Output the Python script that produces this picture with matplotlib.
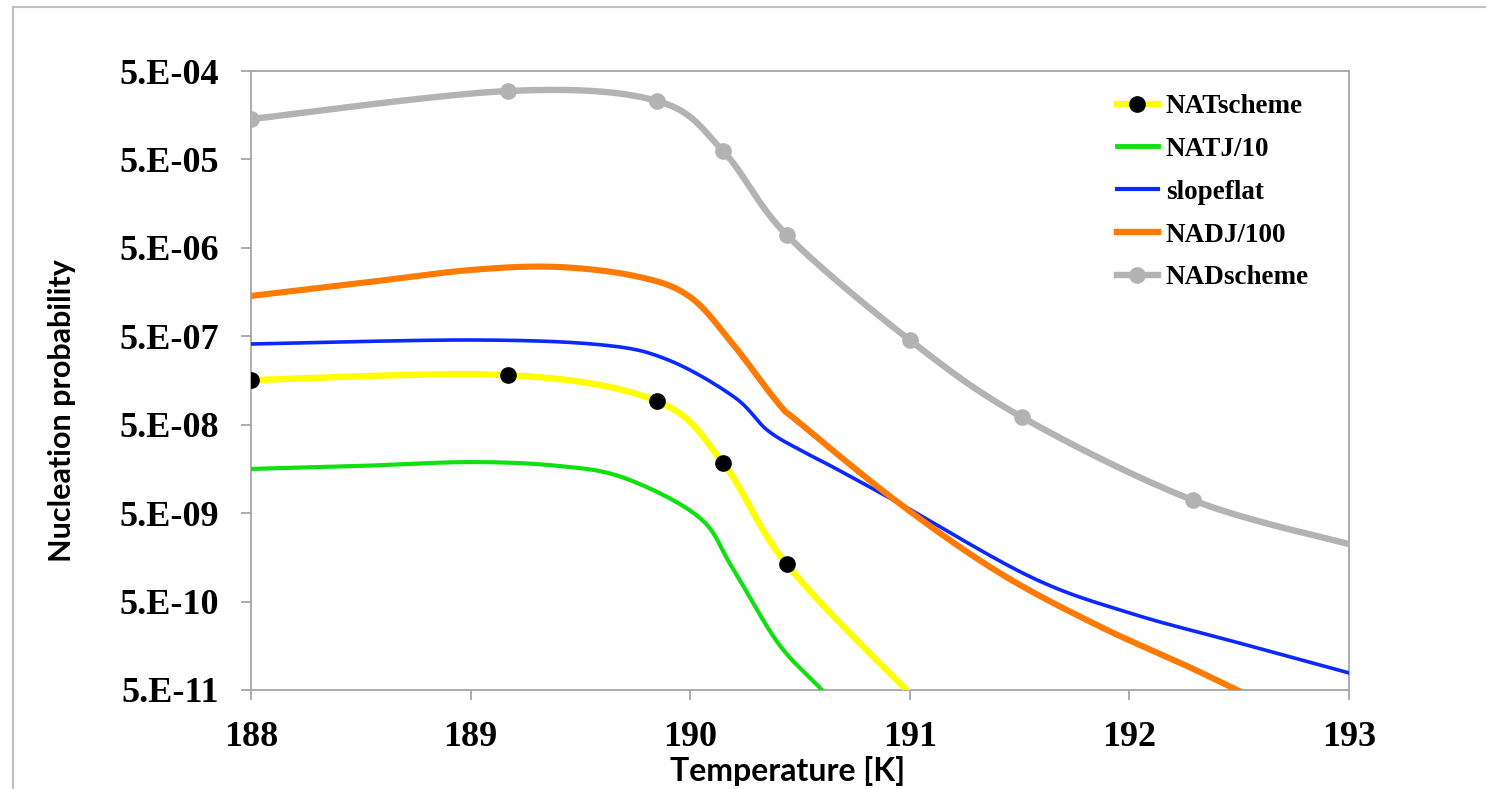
import numpy as np
import matplotlib
matplotlib.use("Agg")
import matplotlib.pyplot as plt
from matplotlib.lines import Line2D
from matplotlib.ticker import FixedLocator, NullLocator

# ---- data -------------------------------------------------------------
# NADscheme (markers at every point except the last)
nad_T = [188.0, 189.17, 189.85, 190.15, 190.44, 191.0, 191.51, 192.29, 193.0]
nad_P = [1.43e-4, 2.97e-4, 2.29e-4, 6.2e-5, 6.98e-6, 4.53e-7, 6.1e-8, 7.0e-9, 2.23e-9]

# NATscheme (last two points fall below the axis floor)
nat_T = [188.0, 189.17, 189.85, 190.15, 190.44, 191.0, 191.51]
nat_P = [1.6e-7, 1.82e-7, 9.2e-8, 1.84e-8, 1.32e-9, 4.6e-11, 3.0e-12]
nat_marked = 5

# NATJ/10
natj_T = [188.0, 188.5, 189.0, 189.4, 189.7, 190.04, 190.19, 190.4, 190.6, 190.9]
natj_P = [1.58e-8, 1.71e-8, 1.89e-8, 1.71e-8, 1.25e-8, 4.5e-9, 1.23e-9, 1.7e-10, 5.0e-11, 8.0e-12]

# slopeflat
slope_T = [188.0, 189.0, 189.6, 189.9, 190.2, 190.35, 190.5, 190.65, 190.95, 191.55, 192.0, 192.5, 193.0]
slope_P = [4.09e-7, 4.54e-7, 3.99e-7, 2.70e-7, 1.03e-7, 4.36e-8, 2.59e-8, 1.66e-8, 6.5e-9, 9.5e-10, 3.72e-10, 1.70e-10, 7.8e-11]

# NADJ/100
nadj_T = [188.0, 188.5, 189.0, 189.4, 189.77, 190.0, 190.19, 190.4, 190.5, 190.95, 191.41, 191.87, 192.32, 193.0]
nadj_P = [1.43e-6, 2.0e-6, 2.81e-6, 3.04e-6, 2.34e-6, 1.39e-6, 4.2e-7, 8.8e-8, 5.2e-8, 6.5e-9, 1.05e-9, 2.58e-10, 8.0e-11, 1.2e-11]

x_ticks = [188, 189, 190, 191, 192, 193]
y_ticks = [5e-4, 5e-5, 5e-6, 5e-7, 5e-8, 5e-9, 5e-10, 5e-11]
y_tick_labels = ["5.E-04", "5.E-05", "5.E-06", "5.E-07", "5.E-08", "5.E-09", "5.E-10", "5.E-11"]

labels = ["NATscheme", "NATJ/10", "slopeflat", "NADJ/100", "NADscheme"]
colors = {"yellow": "#FFFF00", "green": "#10E010", "blue": "#0A28FF",
          "orange": "#FF7A00", "gray": "#B3B3B3"}


def smoothed(xs, ys, n=40):
    """Spreadsheet-style smoothed line: cubic Bezier segments with
    Catmull-Rom control points, built in (x, log10 y) space."""
    p = np.column_stack([np.asarray(xs, float), np.log10(ys)])
    out = []
    m = len(p)
    t = np.linspace(0, 1, n)[:, None]
    for i in range(m - 1):
        p0 = p[i - 1] if i > 0 else p[i]
        p1, p2 = p[i], p[i + 1]
        p3 = p[i + 2] if i + 2 < m else p[i + 1]
        c1 = p1 + (p2 - p0) / 6.0
        c2 = p2 - (p3 - p1) / 6.0
        seg = ((1 - t) ** 3) * p1 + 3 * ((1 - t) ** 2) * t * c1 \
            + 3 * (1 - t) * t ** 2 * c2 + t ** 3 * p2
        out.append(seg if i == 0 else seg[1:])
    s = np.vstack(out)
    return s[:, 0], 10 ** s[:, 1]


W, H, DPI = 1486, 789, 100
fig = plt.figure(figsize=(W / DPI, H / DPI), dpi=DPI)
fig.patch.set_facecolor("white")

# outer frame (left and top edges visible)
frame_col = "#C0C0C0"
fig.add_artist(Line2D([13 / W, 13 / W], [0, 1 - 7 / H], transform=fig.transFigure,
                      color=frame_col, lw=1.5))
fig.add_artist(Line2D([13 / W, 1], [1 - 7 / H, 1 - 7 / H], transform=fig.transFigure,
                      color=frame_col, lw=1.5))

ax = fig.add_axes([251 / W, 1 - 690 / H, (1349 - 251) / W, (690 - 71) / H])
ax.set_yscale("log")
ax.set_xlim(188, 193)
ax.set_ylim(5e-11, 5e-4)

# series, in drawing order
x, y = smoothed(nat_T, nat_P)
ax.plot(x, y, color=colors["yellow"], lw=4.6, solid_capstyle="round", zorder=3)
ax.plot(nat_T[:nat_marked], nat_P[:nat_marked], ls="none", marker="o", ms=11,
        mfc="black", mec="black", zorder=4)

x, y = smoothed(natj_T, natj_P)
ax.plot(x, y, color=colors["green"], lw=3.0, zorder=3)

x, y = smoothed(slope_T, slope_P)
ax.plot(x, y, color=colors["blue"], lw=2.6, zorder=3)

x, y = smoothed(nadj_T, nadj_P)
ax.plot(x, y, color=colors["orange"], lw=4.4, zorder=3)

x, y = smoothed(nad_T, nad_P)
ax.plot(x, y, color=colors["gray"], lw=4.6, zorder=5)
ax.plot(nad_T[:-1], nad_P[:-1], ls="none", marker="o", ms=11,
        mfc=colors["gray"], mec=colors["gray"], zorder=6)

# axes styling
spine_col = "#A6A6A6"
for s in ax.spines.values():
    s.set_color(spine_col)
    s.set_linewidth(1.3)
ax.xaxis.set_major_locator(FixedLocator(x_ticks))
ax.yaxis.set_major_locator(FixedLocator(y_ticks))
ax.yaxis.set_minor_locator(NullLocator())
ax.set_yticklabels(y_tick_labels)
ax.set_xticklabels([str(v) for v in x_ticks])
ax.tick_params(axis="both", which="major", direction="out", length=7, width=1.3,
               color=spine_col, labelsize=26)
ax.tick_params(axis="y", pad=16)
ax.tick_params(axis="x", pad=15)
for lab in ax.get_xticklabels() + ax.get_yticklabels():
    lab.set_fontfamily("Liberation Serif")
    lab.set_fontweight("bold")

# axis titles
fig.text(62 / W, 1 - 411 / H, "Nucleation probability", rotation=90,
         ha="center", va="center", fontsize=22, fontweight="bold", family="Lato")
fig.text(788 / W, 1 - 781 / H, "Temperature [K]", ha="center", va="baseline",
         fontsize=23, fontweight="bold", family="Lato")

# legend
handles = [
    Line2D([], [], color=colors["yellow"], lw=4.6, marker="o", ms=11, mfc="black", mec="black"),
    Line2D([], [], color=colors["green"], lw=3.5),
    Line2D([], [], color=colors["blue"], lw=3.0),
    Line2D([], [], color=colors["orange"], lw=4.6),
    Line2D([], [], color=colors["gray"], lw=4.6, marker="o", ms=11,
           mfc=colors["gray"], mec=colors["gray"]),
]
leg = fig.legend(handles, labels, loc="upper left",
                 bbox_to_anchor=(1117 / W, 1 - 94 / H), frameon=False,
                 borderpad=0, borderaxespad=0, handlelength=1.5,
                 handletextpad=0.3, labelspacing=0.66,
                 prop={"family": "Liberation Serif", "weight": "bold", "size": 19.5})

fig.savefig("out.png", dpi=DPI, facecolor="white")
